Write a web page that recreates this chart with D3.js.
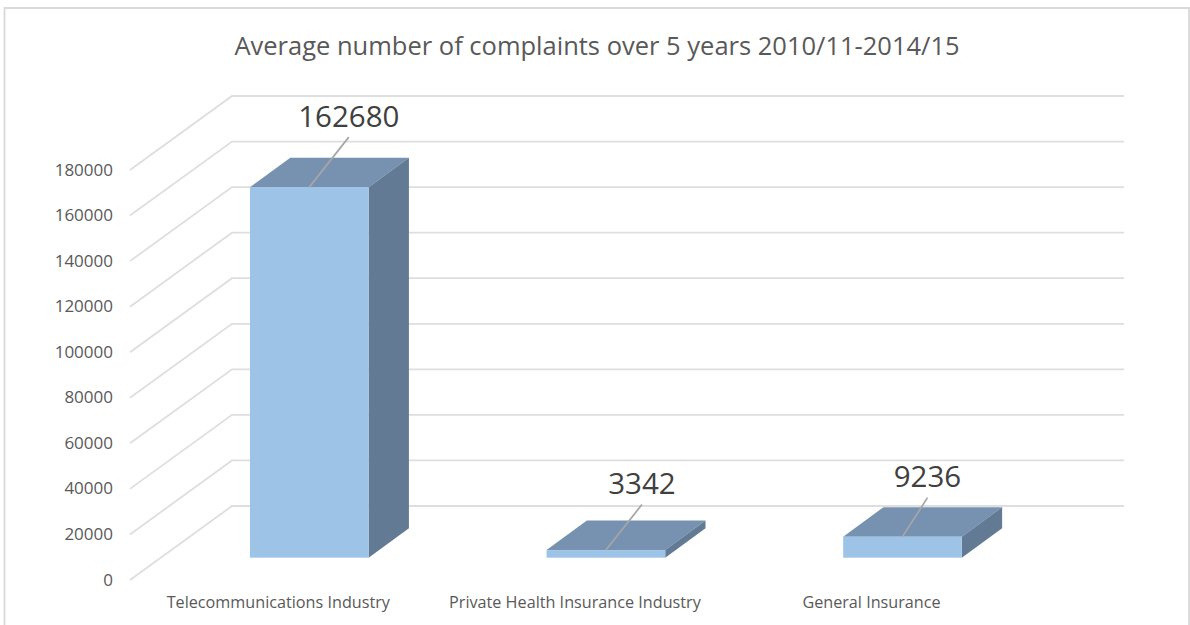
<!DOCTYPE html>
<html>
<head>
<meta charset="utf-8">
<script src="https://cdn.jsdelivr.net/npm/d3@7"></script>
<style>
  html, body { margin: 0; padding: 0; background: #fff; }
  svg { display: block; font-family: "Open Sans", sans-serif; }
</style>
</head>
<body>
<svg id="chart" width="1190" height="625"></svg>
<script>
const categories = ["Telecommunications Industry", "Private Health Insurance Industry", "General Insurance"];
const complaints = [162680, 3342, 9236];
const yTicks = [0, 20000, 40000, 60000, 80000, 100000, 120000, 140000, 160000, 180000];
const chartTitle = "Average number of complaints over 5 years 2010/11-2014/15";

const svg = d3.select("#chart");

// Oblique projection: the wall sits behind the axis plane, bars stand between them.
const wallDepth = { dx: 102, dy: -74 };
const barDepth = { dx: 40.3, dy: -29.5 };
const barRise = 22.3;

const yAxisPlane = d3.scaleLinear().domain([0, 180000]).range([580, 170]);
const yWall = v => yAxisPlane(v) + wallDepth.dy;
const yBar = v => yAxisPlane(v) - barRise;

const x = d3.scaleBand().domain(categories).range([161, 1050.8]).paddingInner(0.6).paddingOuter(0.3);

// Chart frame, open along the bottom edge
svg.append("path")
  .attr("d", d3.line()([[4.5, 625], [4.5, 8], [1189, 8], [1189, 625]]))
  .attr("fill", "none").attr("stroke", "#d9d9d9").attr("stroke-width", 1.8);

svg.append("text")
  .attr("x", 597).attr("y", 55).attr("text-anchor", "middle")
  .attr("font-size", 25.5).attr("fill", "#595959")
  .text(chartTitle);

// Wall gridlines with their diagonal returns to the axis plane
svg.append("g").selectAll("path").data(yTicks).join("path")
  .attr("d", v => d3.line()([
    [130, yAxisPlane(v)],
    [130 + wallDepth.dx, yWall(v)],
    [1124, yWall(v)]
  ]))
  .attr("fill", "none").attr("stroke", "#dedede").attr("stroke-width", 1.8);

// Value axis on the front plane
const yAxisG = svg.append("g").attr("transform", "translate(113,0)")
  .call(d3.axisLeft(yAxisPlane).tickValues(yTicks).tickFormat(d3.format("d")).tickSize(0).tickPadding(0));
yAxisG.select(".domain").remove();
yAxisG.selectAll("text")
  .attr("font-family", "'Open Sans', sans-serif").attr("font-size", 17).attr("fill", "#595959")
  .attr("dy", "0.3em");

// Category axis, labels offset left of the bars as the projection places them
const xAxisG = svg.append("g").attr("transform", "translate(-31,596)")
  .call(d3.axisBottom(x).tickSize(0).tickPadding(0));
xAxisG.select(".domain").remove();
xAxisG.selectAll("text")
  .attr("font-family", "'Open Sans', sans-serif").attr("font-size", 16.2).attr("fill", "#595959")
  .attr("dy", "0.75em");

// Bars: top, side and front faces
const rows = categories.map((c, i) => ({ c, v: complaints[i] }));
const bars = svg.append("g").selectAll("g").data(rows).join("g");

bars.append("path") // top
  .attr("fill", "#7692b0")
  .attr("d", d => {
    const l = x(d.c), r = l + x.bandwidth(), t = yBar(d.v);
    return d3.line()([[l, t], [l + barDepth.dx, t + barDepth.dy], [r + barDepth.dx, t + barDepth.dy], [r, t]]) + "Z";
  });
bars.append("path") // side
  .attr("fill", "#637a94")
  .attr("d", d => {
    const r = x(d.c) + x.bandwidth(), t = yBar(d.v), b = yBar(0);
    return d3.line()([[r, t], [r + barDepth.dx, t + barDepth.dy], [r + barDepth.dx, b + barDepth.dy], [r, b]]) + "Z";
  });
bars.append("rect") // front
  .attr("fill", "#9dc3e6")
  .attr("x", d => x(d.c)).attr("width", x.bandwidth())
  .attr("y", d => yBar(d.v)).attr("height", d => yBar(0) - yBar(d.v));

// Leader end offsets and label placement for each data label
const leaderDx = [39.5, 36, 25];
const leaderDy = [-50, -45.5, -39];

bars.append("line")
  .attr("x1", d => x(d.c) + x.bandwidth() / 2).attr("y1", d => yBar(d.v))
  .attr("x2", (d, i) => x(d.c) + x.bandwidth() / 2 + leaderDx[i])
  .attr("y2", (d, i) => yBar(d.v) + leaderDy[i])
  .attr("stroke", "#a6a6a6").attr("stroke-width", 1.7);

bars.append("text")
  .attr("x", (d, i) => x(d.c) + x.bandwidth() / 2 + leaderDx[i])
  .attr("y", (d, i) => yBar(d.v) + leaderDy[i] - 10.5)
  .attr("text-anchor", "middle").attr("font-size", 29.5).attr("fill", "#404040")
  .text(d => d.v);
</script>
</body>
</html>
